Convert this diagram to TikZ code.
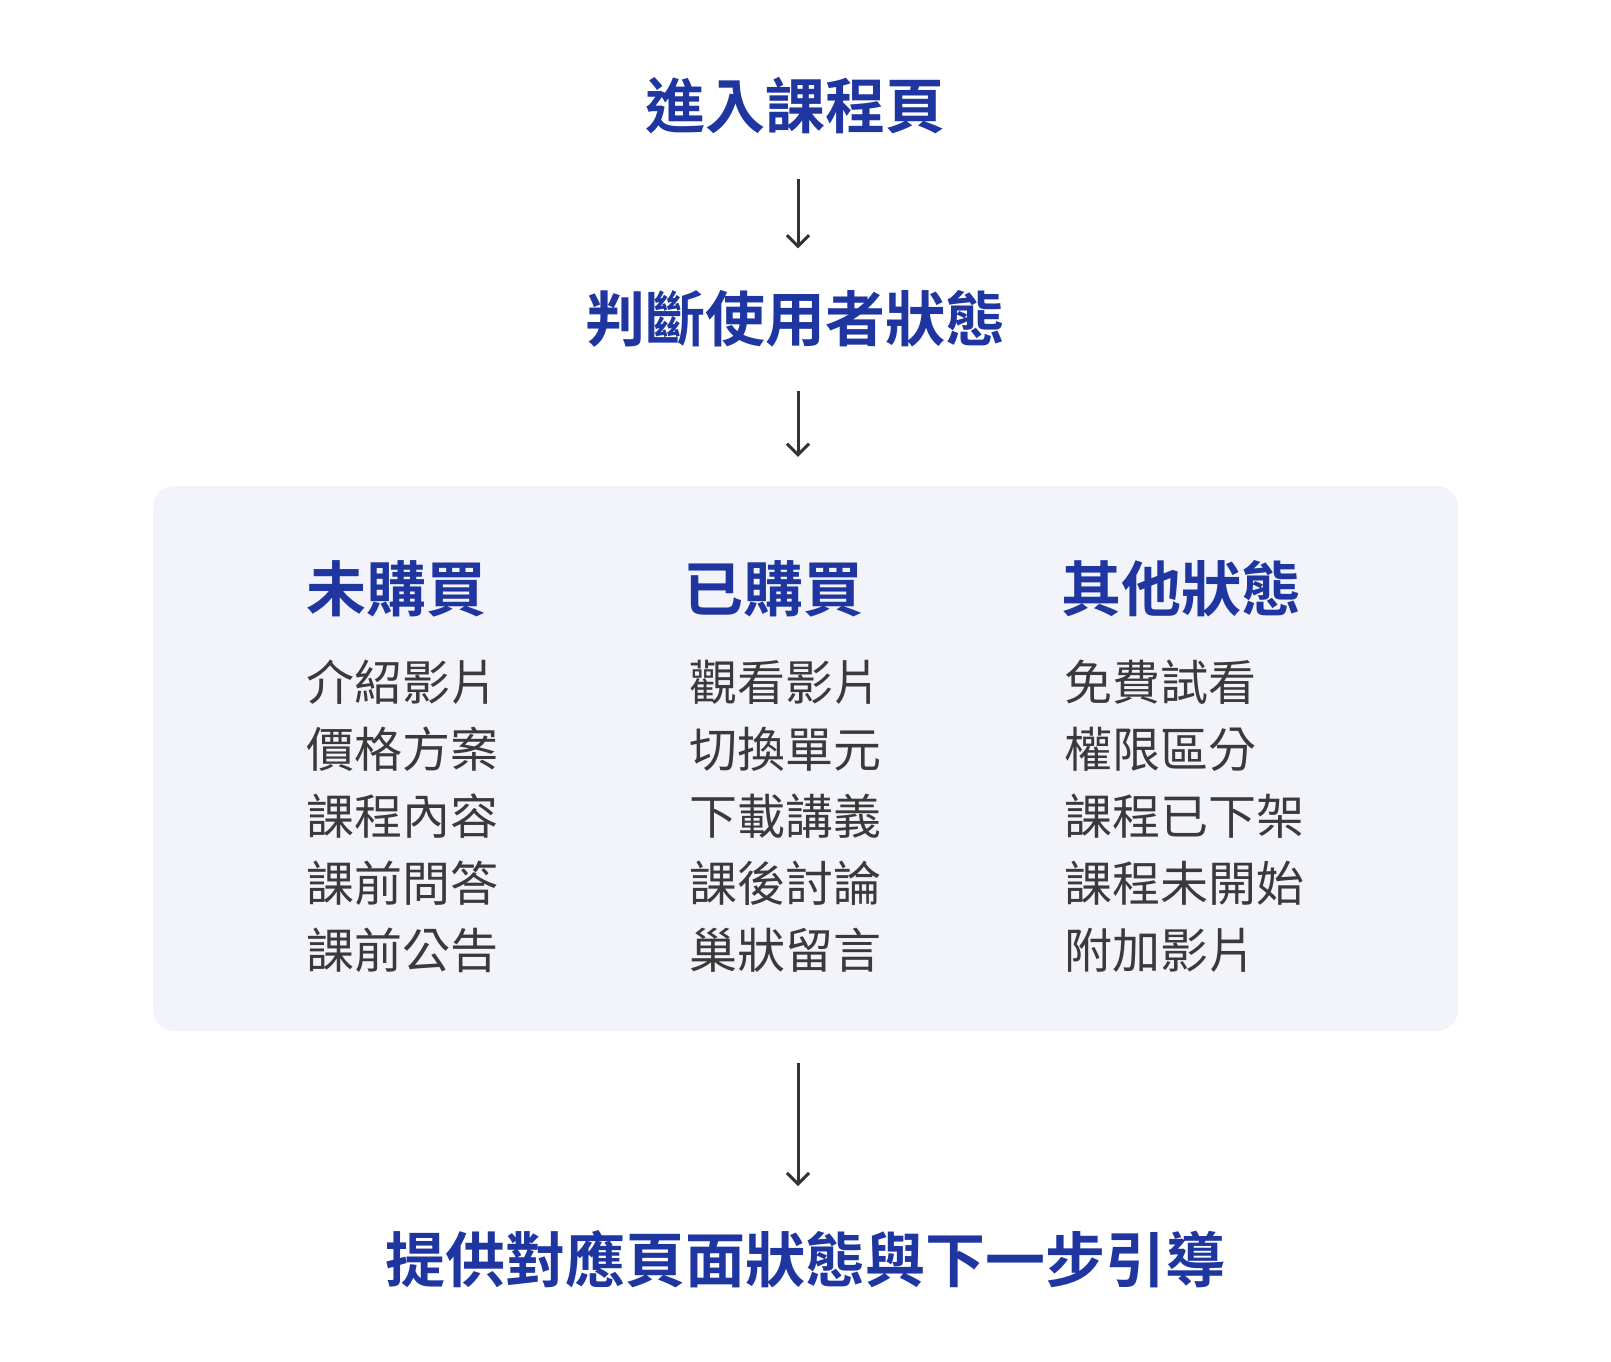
\documentclass[tikz,border=0pt]{standalone}
\usepackage{fontspec}
\setmainfont{Noto Sans CJK TC}[BoldFont={Noto Sans CJK TC Bold}]
\usetikzlibrary{arrows.meta}
\definecolor{hblue}{HTML}{1F35A0}
\definecolor{itemgray}{HTML}{3A3A3A}
\definecolor{boxfill}{HTML}{F3F4F9}
\definecolor{arrgray}{HTML}{333333}
\tikzset{
  title/.style={inner sep=0pt, text=hblue, font=\fontsize{60}{72}\selectfont\bfseries},
  heading/.style={inner sep=0pt, anchor=west, text=hblue, font=\fontsize{60}{72}\selectfont\bfseries},
  item/.style={inner sep=0pt, anchor=west, text=itemgray, font=\fontsize{48}{58}\selectfont},
  flow/.style={draw=arrgray, line width=3pt, -{Straight Barb[length=11pt,width=22pt,line width=3pt]}},
  panel/.style={fill=boxfill, draw=none, rounded corners=21pt, inner sep=0pt}
}
\begin{document}
\begin{tikzpicture}[x=1pt,y=-1pt]
\useasboundingbox (0,0) rectangle (1611,1362);
\fill[white] (0,0) rectangle (1611,1362);
\coordinate (ax) at (798,0);

\node[title] (t1) at (795,106) {進入課程頁};
\node[title] (t2) at (795,319) {判斷使用者狀態};
\node[panel, minimum width=1305pt, minimum height=545pt] (box) at (805.5,758.5) {};
\node[title] (t3) at (805,1259) {提供對應頁面狀態與下一步引導};

\node[heading] (h1) at (306,589) {未購買};
\node[heading] (h2) at (683,589) {已購買};
\node[heading] (h3) at (1061,589) {其他狀態};

\foreach \txt [count=\i] in {介紹影片,價格方案,課程內容,課前問答,課前公告}
  \node[item] (a\i) at (306,615+67*\i) {\txt};
\foreach \txt [count=\i] in {觀看影片,切換單元,下載講義,課後討論,巢狀留言}
  \node[item] (b\i) at (689,615+67*\i) {\txt};
\foreach \txt [count=\i] in {免費試看,權限區分,課程已下架,課程未開始,附加影片}
  \node[item] (c\i) at (1064,615+67*\i) {\txt};

\draw[flow, shorten <=44pt, shorten >=42pt] (t1.south -| ax) -- (t2.north -| ax);
\draw[flow, shorten <=43pt, shorten >=29pt] (t2.south -| ax) -- (box.north -| ax);
\draw[flow, shorten <=32pt, shorten >=44pt] (box.south -| ax) -- (t3.north -| ax);
\end{tikzpicture}
\end{document}
